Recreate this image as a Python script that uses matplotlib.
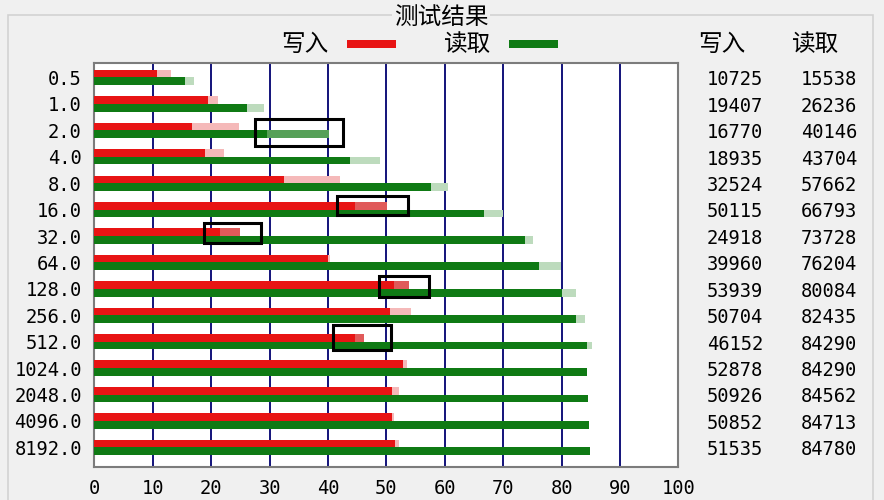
import matplotlib
matplotlib.use("Agg")
import matplotlib.pyplot as plt
import numpy as np
from matplotlib.patches import Rectangle
from matplotlib.transforms import blended_transform_factory

plt.rcParams['font.family'] = ['Noto Sans CJK SC', 'DejaVu Sans']

# block sizes (KB) and the results table (KB/s)
sizes = ['0.5', '1.0', '2.0', '4.0', '8.0', '16.0', '32.0', '64.0', '128.0',
         '256.0', '512.0', '1024.0', '2048.0', '4096.0', '8192.0']
write_kb = [10725, 19407, 16770, 18935, 32524, 50115, 24918, 39960, 53939,
            50704, 46152, 52878, 50926, 50852, 51535]
read_kb = [15538, 26236, 40146, 43704, 57662, 66793, 73728, 76204, 80084,
           82435, 84290, 84290, 84562, 84713, 84780]

# solid bar end and pale (max) bar end, MB/s
write_base = [10.7, 19.4, 16.8, 18.9, 32.5, 44.6, 21.5, 40.0, 51.3, 50.7,
              44.6, 52.9, 50.9, 50.9, 51.5]
write_peak = [13.1, 21.1, 24.8, 22.2, 42.1, 50.1, 24.9, 40.3, 53.9, 54.3,
              46.2, 53.6, 52.2, 51.3, 52.2]
read_base = [15.5, 26.2, 29.6, 43.7, 57.7, 66.8, 73.7, 76.2, 80.1, 82.4,
             84.3, 84.3, 84.6, 84.7, 84.8]
read_peak = [17.0, 29.1, 40.1, 48.9, 60.6, 69.9, 75.1, 79.9, 82.4, 84.0,
             85.2, 84.4, 84.6, 84.7, 84.8]

# hand-drawn highlight boxes (row, x from/to, y offset from/to)
box_rows = [2, 5, 6, 8, 10]
box_left = [27.5, 41.5, 18.7, 48.8, 40.8]
box_right = [42.6, 53.8, 28.5, 57.3, 50.8]
box_top = [-0.42, -0.52, -0.48, -0.49, -0.64]
box_bottom = [0.58, 0.20, 0.27, 0.29, 0.31]

RED, RED_MID, RED_PALE = '#e81414', '#e05a5a', '#f5b9b9'
GREEN, GREEN_MID, GREEN_PALE = '#0f7a14', '#56a058', '#bddbbd'
BG = '#f0f0f0'
NUM_FONT = 'DejaVu Sans Mono'
CJK_SIZE = 17

W, H = 884, 500
fig = plt.figure(figsize=(W / 100, H / 100), dpi=100, facecolor=BG)
ax = fig.add_axes([94.3 / W, 1 - 466.7 / H, (678.3 - 94.3) / W, (466.7 - 62.7) / H])
ax.set_facecolor('white')

rows = np.arange(len(sizes))
bh = 0.29
write_mb = np.array(write_kb) / 1000
read_mb = np.array(read_kb) / 1000
write_mid = np.where(write_mb > np.array(write_base) + 1, write_mb, write_base)
read_mid = np.where(read_mb > np.array(read_base) + 1, read_mb, read_base)

yw = rows - bh / 2
yr = rows + bh / 2
ax.barh(yw, write_peak, height=bh, color=RED_PALE, zorder=2)
ax.barh(yw, write_mid, height=bh, color=RED_MID, zorder=3)
ax.barh(yw, write_base, height=bh, color=RED, zorder=4)
ax.barh(yr, read_peak, height=bh, color=GREEN_PALE, zorder=2)
ax.barh(yr, read_mid, height=bh, color=GREEN_MID, zorder=3)
ax.barh(yr, read_base, height=bh, color=GREEN, zorder=4)

for r, x0, x1, t, b in zip(box_rows, box_left, box_right, box_top, box_bottom):
    ax.add_patch(Rectangle((x0, r + t), x1 - x0, b - t, fill=False,
                           edgecolor='black', linewidth=2.2, zorder=6))

ax.vlines(np.arange(10, 100, 10), -1, 16, color='#000070', linewidth=1.3, zorder=1)
ax.set_xlim(0, 100)
ax.set_ylim(14.73, -0.56)
ax.set_xticks(np.arange(0, 101, 10))
ax.set_yticks(rows, sizes)
ax.tick_params(length=0, labelsize=13.5, colors='black')
ax.tick_params(axis='x', pad=9)
ax.tick_params(axis='y', pad=9)
for lab in ax.get_xticklabels() + ax.get_yticklabels():
    lab.set_fontfamily(NUM_FONT)
for s in ax.spines.values():
    s.set_color('#7c7c7c')
    s.set_linewidth(1.5)

# results table on the right
tr = blended_transform_factory(fig.transFigure, ax.transData)
for i in rows:
    ax.text(735 / W, i + 0.09, str(write_kb[i]), transform=tr, ha='center', va='center',
            fontsize=13.5, family=NUM_FONT, clip_on=False)
    ax.text(829 / W, i + 0.09, str(read_kb[i]), transform=tr, ha='center', va='center',
            fontsize=13.5, family=NUM_FONT, clip_on=False)

fig.text(721.5 / W, 1 - 44 / H, '写入', ha='center', va='center', fontsize=CJK_SIZE)
fig.text(815 / W, 1 - 44 / H, '读取', ha='center', va='center', fontsize=CJK_SIZE)

# group frame and title
fig.add_artist(Rectangle((8 / W, -0.1), (873 - 8) / W, 1.1 - 15 / H, transform=fig.transFigure,
                         fill=False, edgecolor='#d2d2d2', linewidth=1.2, zorder=0))
fig.text(441 / W, 1 - 17 / H, '测试结果', ha='center', va='center', fontsize=CJK_SIZE,
         bbox=dict(facecolor=BG, edgecolor='none', pad=1.5), zorder=5)

# legend
fig.text(305 / W, 1 - 44 / H, '写入', ha='center', va='center', fontsize=CJK_SIZE)
fig.text(467 / W, 1 - 44 / H, '读取', ha='center', va='center', fontsize=CJK_SIZE)
fig.add_artist(Rectangle((347.3 / W, 1 - 48.3 / H), 48.7 / W, 8 / H, transform=fig.transFigure,
                         facecolor=RED, edgecolor='none'))
fig.add_artist(Rectangle((509.3 / W, 1 - 48.3 / H), 49 / W, 8 / H, transform=fig.transFigure,
                         facecolor=GREEN, edgecolor='none'))

fig.savefig('out.png', dpi=100, facecolor=BG)
